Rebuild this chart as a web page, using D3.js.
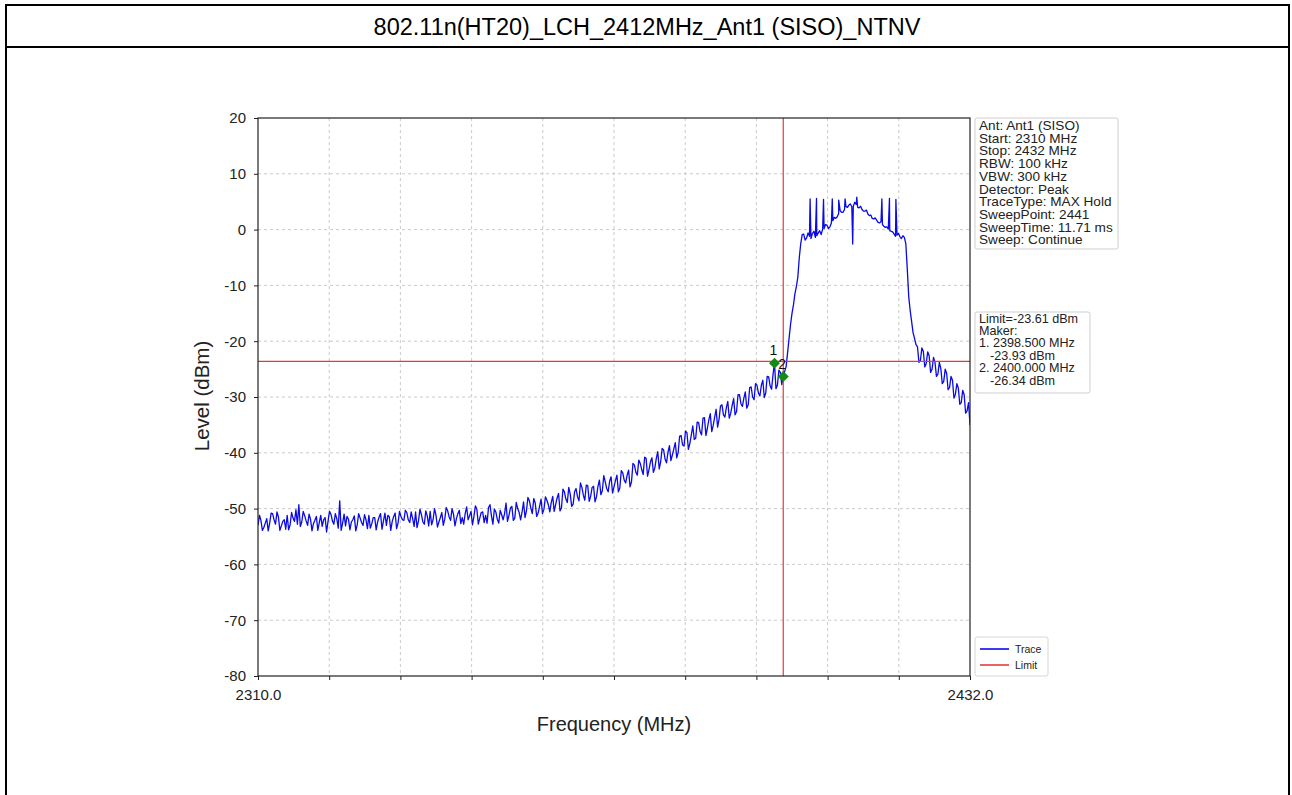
<!DOCTYPE html>
<html><head><meta charset="utf-8">
<script src="https://cdn.jsdelivr.net/npm/d3@7"></script>
<style>
body{margin:0;background:#fff;}
text{font-family:"Liberation Sans",Arial,sans-serif;}
</style>
</head><body>
<svg id="c" width="1292" height="795"></svg>
<script>
// ---------------- data ----------------
const chartTitle = "802.11n(HT20)_LCH_2412MHz_Ant1 (SISO)_NTNV";
const freqStart = 2310, freqStop = 2432, freqStep = 0.5;
// trace level (dBm) at 2310, 2310.5, ... 2432 MHz
const traceLevel = [
 -53.0,-52.1,-53.4,-51.8,-52.6,-50.9,-52.8,-51.5,-53.1,-52.0,
 -51.2,-52.9,-51.7,-50.2,-49.3,-52.4,-51.3,-53.0,-51.9,-52.7,
 -51.4,-52.5,-53.2,-51.6,-52.3,-51.0,-52.8,-51.8,-48.6,-52.6,
 -53.1,-51.9,-52.4,-51.3,-52.9,-51.7,-53.0,-52.0,-51.2,-52.7,
 -51.6,-52.4,-50.9,-52.2,-53.0,-51.5,-52.3,-50.8,-52.6,-51.4,
 -52.1,-50.7,-52.5,-51.8,-50.6,-52.2,-51.1,-52.8,-51.3,-50.5,
 -52.0,-51.2,-52.4,-50.7,-51.9,-50.4,-52.1,-51.0,-51.8,-50.3,
 -51.6,-50.9,-52.0,-50.5,-51.4,-50.1,-51.7,-50.6,-51.2,-49.8,
 -51.3,-50.1,-51.9,-50.3,-52.0,-49.0,-51.2,-49.6,-51.7,-50.0,
 -52.0,-48.8,-50.4,-48.6,-50.9,-49.0,-50.8,-48.3,-50.1,-48.5,
 -50.6,-47.8,-49.3,-47.3,-49.9,-47.0,-48.9,-47.4,-49.2,-46.4,
 -48.6,-46.2,-48.5,-45.9,-47.8,-46.0,-47.9,-44.9,-46.8,-45.2,
 -47.0,-44.3,-46.1,-44.0,-46.3,-43.6,-45.4,-43.1,-45.2,-42.2,
 -44.0,-41.9,-43.9,-41.0,-43.0,-40.9,-42.7,-39.8,-41.6,-39.5,
 -41.8,-38.7,-40.4,-38.2,-39.9,-36.9,-38.8,-36.4,-38.3,-35.2,
 -37.4,-34.6,-36.8,-33.7,-35.6,-33.0,-35.1,-32.2,-34.0,-31.4,
 -33.6,-30.8,-32.9,-30.3,-32.6,-29.6,-31.7,-29.1,-31.4,-28.2,
 -30.5,-27.9,-29.8,-27.0,-29.3,-26.4,-28.6,-23.9,-27.9,-25.6,
 -26.3,-24.5,-19.5,-15.0,-11.5,-8.5,-2.5,-0.8,-1.5,-1.2,
 -0.7,-1.4,-0.6,-0.9,0.2,0.8,0.5,1.6,2.0,2.9,
 3.1,3.6,4.0,4.6,4.2,4.5,3.9,3.6,3.3,2.8,
 2.6,1.9,1.7,1.2,0.9,0.4,0.1,-0.3,-0.8,-1.0,
 -1.3,-1.1,-2.5,-12.0,-16.5,-19.5,-21.0,-23.5,-21.8,-24.0,
 -22.6,-25.0,-23.8,-25.9,-24.9,-27.2,-25.8,-28.3,-27.0,-29.5,
 -28.4,-31.0,-29.6,-32.5,-35.0
];
// in-between sweep points at 2310.25, 2310.75, ... 2431.75 MHz
const traceLevelMid = [
 -51.2,-53.9,-52.6,-54.0,-50.8,-52.0,-50.6,-53.9,-52.3,-53.7,
 -53.8,-50.7,-52.3,-52.8,-53.2,-50.5,-52.2,-51.0,-54.0,-52.1,
 -53.9,-51.2,-52.0,-54.2,-50.5,-52.2,-50.9,-53.5,-53.9,-51.0,
 -51.4,-53.8,-52.0,-54.0,-50.9,-52.5,-51.1,-53.6,-53.5,-51.6,
 -53.8,-51.5,-53.7,-50.8,-51.2,-53.9,-51.4,-53.6,-50.5,-52.0,
 -50.3,-52.0,-50.6,-53.2,-53.4,-50.1,-52.4,-50.4,-53.1,-52.9,
 -50.0,-53.3,-51.6,-53.0,-49.8,-51.5,-50.0,-53.1,-50.9,-52.7,
 -52.8,-49.7,-51.3,-52.9,-49.5,-52.8,-50.7,-52.5,-52.6,-49.3,
 -52.8,-50.6,-52.6,-51.1,-50.9,-52.3,-49.9,-52.1,-48.9,-50.7,
 -50.6,-51.6,-48.0,-49.9,-48.2,-51.4,-49.6,-50.9,-47.9,-49.3,
 -48.9,-50.5,-48.1,-50.4,-46.5,-48.3,-46.2,-49.6,-47.0,-47.9,
 -45.4,-47.6,-45.8,-48.7,-46.2,-48.8,-46.0,-47.5,-44.1,-46.4,
 -45.1,-47.2,-45.0,-47.0,-43.2,-44.9,-44.0,-46.1,-41.9,-43.5,
 -41.3,-43.0,-40.8,-44.2,-41.6,-43.5,-41.0,-42.9,-39.2,-41.1,
 -39.9,-41.4,-39.3,-40.9,-37.0,-38.6,-36.1,-39.4,-36.8,-37.6,
 -34.5,-36.2,-33.8,-36.9,-34.1,-36.2,-33.6,-35.4,-31.6,-33.2,
 -31.9,-33.8,-31.5,-33.2,-29.6,-31.2,-30.2,-32.0,-28.3,-30.0,
 -27.6,-29.3,-27.9,-30.1,-26.3,-28.0,-26.0,-28.5,-25.2,-27.8,
 -25.4,-22.0,-17.0,-13.5,-10.2,-5.0,-0.9,-1.9,-0.6,-1.6,
 -0.3,-1.1,-0.2,0.1,0.9,0.2,1.2,2.2,2.3,3.4,
 3.1,4.1,4.4,4.1,4.9,4.0,4.2,3.3,3.5,2.5,
 2.0,2.1,1.3,1.4,0.6,0.5,-0.2,-0.4,-1.2,-0.7,
 -1.6,-1.4,-7.0,-14.5,-18.5,-20.6,-23.8,-21.2,-24.6,-21.9,
 -25.6,-22.9,-26.3,-23.8,-27.6,-25.0,-28.7,-26.3,-30.2,-27.6,
 -31.3,-28.8,-32.9,-31.0
];
// narrow spikes on top of the channel (MAX Hold)
const spikeFreq  = [2404.6, 2405.7, 2406.9, 2408.4, 2409.5, 2410.6, 2411.9, 2412.6, 2416.9, 2418.2, 2419.3];
const spikeLevel = [5.5, 5.6, 5.4, 5.5, 5.3, 5.5, -2.6, 5.8, 5.5, 5.6, 5.4];

const yTicks = [20, 10, 0, -10, -20, -30, -40, -50, -60, -70, -80];
const xTicks = [2310, 2322.2, 2334.4, 2346.6, 2358.8, 2371, 2383.2, 2395.4, 2407.6, 2419.8, 2432];
const xTickLabels = ["2310.0", "", "", "", "", "", "", "", "", "", "2432.0"];

const limitLevel = -23.61;
const limitFreq = 2400;
const markerName = ["1", "2"];
const markerFreq = [2398.5, 2400.0];
const markerLevel = [-23.93, -26.34];

const infoLines = ["Ant: Ant1 (SISO)", "Start: 2310 MHz", "Stop: 2432 MHz", "RBW: 100 kHz", "VBW: 300 kHz",
  "Detector: Peak", "TraceType: MAX Hold", "SweepPoint: 2441", "SweepTime: 11.71 ms", "Sweep: Continue"];
const limitLines = ["Limit=-23.61 dBm", "Maker:", "1. 2398.500 MHz", "-23.93 dBm", "2. 2400.000 MHz", "-26.34 dBm"];
const limitIndent = [0, 0, 0, 1, 0, 1];
const legendNames = ["Trace", "Limit"];

// ---------------- drawing ----------------
const svg = d3.select("#c");
const W = 1292, H = 795;
const plot = {l: 258, r: 970, t: 118, b: 676};
const traceColor = "#0a0ae6", limitColor = "#e23b3b", markerColor = "#138a13";

svg.append("rect").attr("width", W).attr("height", H).attr("fill", "#fff");

// outer frame + title box
svg.append("path").attr("d", `M6,800 V5 H1289 V800`).attr("fill", "none").attr("stroke", "#000").attr("stroke-width", 2);
svg.append("line").attr("x1", 6).attr("x2", 1289).attr("y1", 47).attr("y2", 47).attr("stroke", "#000").attr("stroke-width", 2);
svg.append("text").attr("x", 647).attr("y", 35).attr("text-anchor", "middle")
  .attr("font-size", 23.5).attr("fill", "#000").text(chartTitle);

const x = d3.scaleLinear().domain([freqStart, freqStop]).range([plot.l, plot.r]);
const y = d3.scaleLinear().domain([-80, 20]).range([plot.b, plot.t]);

// grid
const g = svg.append("g");
g.selectAll(".hg").data(yTicks.slice(1, -1)).join("line")
  .attr("x1", plot.l).attr("x2", plot.r).attr("y1", d => y(d)).attr("y2", d => y(d))
  .attr("stroke", "#c4c4c4").attr("stroke-width", 0.9).attr("stroke-dasharray", "3,3");
g.selectAll(".vg").data(xTicks.slice(1, -1)).join("line")
  .attr("y1", plot.t).attr("y2", plot.b).attr("x1", d => x(d)).attr("x2", d => x(d))
  .attr("stroke", "#c4c4c4").attr("stroke-width", 0.9).attr("stroke-dasharray", "3,3");

// axes
const yAxis = svg.append("g").attr("transform", `translate(${plot.l},0)`)
  .call(d3.axisLeft(y).tickValues(yTicks).tickSize(4).tickPadding(8).tickFormat(d => String(d)));
const xAxis = svg.append("g").attr("transform", `translate(0,${plot.b})`)
  .call(d3.axisBottom(x).tickValues(xTicks).tickSize(4).tickPadding(9).tickFormat((d, i) => xTickLabels[i]));
[yAxis, xAxis].forEach(a => {
  a.select(".domain").remove();
  a.selectAll("line").attr("stroke", "#222");
  a.selectAll("text").attr("font-size", 15).attr("fill", "#222").attr("font-family", "Liberation Sans, Arial, sans-serif");
});

// trace
const pts = traceLevel.map((v, i) => ({f: freqStart + i * freqStep, v}))
  .concat(traceLevelMid.map((v, i) => ({f: freqStart + (i + 0.5) * freqStep, v})))
  .concat(spikeFreq.map((f, i) => ({f, v: spikeLevel[i]})))
  .sort((a, b) => a.f - b.f);
svg.append("clipPath").attr("id", "clip").append("rect")
  .attr("x", plot.l).attr("y", plot.t).attr("width", plot.r - plot.l).attr("height", plot.b - plot.t);
svg.append("path").datum(pts).attr("clip-path", "url(#clip)")
  .attr("d", d3.line().x(d => x(d.f)).y(d => y(d.v)))
  .attr("fill", "none").attr("stroke", traceColor).attr("stroke-width", 1.3).attr("stroke-linejoin", "round");

// limit lines
svg.append("line").attr("x1", plot.l).attr("x2", plot.r).attr("y1", y(limitLevel)).attr("y2", y(limitLevel))
  .attr("stroke", limitColor).attr("stroke-width", 1.2);
svg.append("line").attr("x1", x(limitFreq)).attr("x2", x(limitFreq)).attr("y1", plot.t).attr("y2", plot.b)
  .attr("stroke", limitColor).attr("stroke-width", 1.2);

// markers
const sym = d3.symbol(d3.symbolSquare, 60);
markerFreq.forEach((f, i) => {
  svg.append("path").attr("d", sym())
    .attr("transform", `translate(${x(f)},${y(markerLevel[i])}) rotate(45)`)
    .attr("fill", markerColor);
  svg.append("text").attr("x", x(f) - 1).attr("y", y(markerLevel[i]) - 8).attr("text-anchor", "middle")
    .attr("font-size", 14).attr("fill", "#111").text(markerName[i]);
});

// frame
svg.append("rect").attr("x", plot.l).attr("y", plot.t).attr("width", plot.r - plot.l).attr("height", plot.b - plot.t)
  .attr("fill", "none").attr("stroke", "#222").attr("stroke-width", 1.2);

// axis titles
svg.append("text").attr("x", 614).attr("y", 731).attr("text-anchor", "middle").attr("font-size", 20).attr("fill", "#222")
  .text("Frequency (MHz)");
svg.append("text").attr("transform", "translate(209,396) rotate(-90)").attr("text-anchor", "middle")
  .attr("font-size", 20.5).attr("fill", "#222").text("Level (dBm)");

// info box
svg.append("rect").attr("x", 975).attr("y", 118).attr("width", 143).attr("height", 131).attr("rx", 2)
  .attr("fill", "#fff").attr("stroke", "#cfcfcf");
svg.append("g").selectAll("text").data(infoLines).join("text")
  .attr("x", 979).attr("y", (d, i) => 130 + i * 12.7).attr("font-size", 13.6).attr("fill", "#222").text(d => d);

// limit / marker box
svg.append("rect").attr("x", 975).attr("y", 312).attr("width", 115).attr("height", 81).attr("rx", 2)
  .attr("fill", "#fff").attr("stroke", "#cfcfcf");
svg.append("g").selectAll("text").data(limitLines).join("text")
  .attr("x", (d, i) => 979 + limitIndent[i] * 11).attr("y", (d, i) => 322.5 + i * 12.4)
  .attr("font-size", 12.6).attr("fill", "#222").text(d => d);

// legend
svg.append("rect").attr("x", 975).attr("y", 637).attr("width", 73).attr("height", 39).attr("rx", 2)
  .attr("fill", "#fff").attr("stroke", "#d6d6d6");
const legColors = [traceColor, limitColor];
legendNames.forEach((n, i) => {
  const yy = 649 + i * 16;
  svg.append("line").attr("x1", 980).attr("x2", 1009).attr("y1", yy).attr("y2", yy)
    .attr("stroke", legColors[i]).attr("stroke-width", 1.6);
  svg.append("text").attr("x", 1015).attr("y", yy + 4).attr("font-size", 10.5).attr("fill", "#222").text(n);
});
</script>
</body></html>
